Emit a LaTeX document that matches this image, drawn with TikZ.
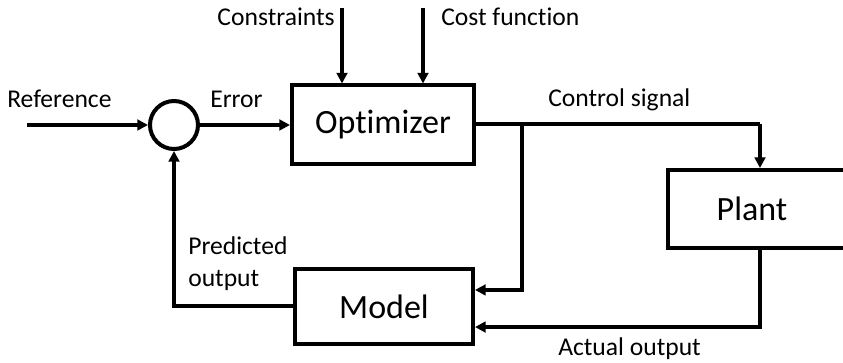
\documentclass[tikz,border=0pt]{standalone}
\usepackage{fontspec}
\setmainfont{Carlito}[Ligatures={NoCommon,NoContextual}]
\usepackage{tikz}
\usetikzlibrary{arrows.meta}

\tikzset{
  block/.style={draw, line width=3pt, fill=white, inner sep=0pt, font=\fontsize{25.5}{30}\selectfont},
  sumnode/.style={draw, circle, line width=3pt, minimum size=36pt, inner sep=0pt},
  wire/.style={line width=3pt},
  sig/.style={wire, -{Triangle[length=8pt,width=8pt]}},
  lab/.style={inner sep=0pt, font=\fontsize{19.2}{24.5}\selectfont},
}

\begin{document}
\begin{tikzpicture}[x=0.75pt,y=0.75pt,yscale=-1,xscale=1]
    \clip (0,0) rectangle (843,363); %picture is 843 wide and 363 high

    % Blocks
    \node [sumnode] (sum) at (174,125) {};
    \node [block, minimum width=136.5pt, minimum height=59.25pt] (opt) at (383,125) {Optimizer};
    \node [block, minimum width=159pt, minimum height=58.5pt] (plant) at (774,209) {};
    \node [block, minimum width=133.5pt, minimum height=56.25pt] (model) at (384,306.5) {Model};
    \node [inner sep=0pt, font=\fontsize{25.5}{30}\selectfont] (plantlab) at (752,209) {Plant};

    % Free ends and corners
    \coordinate (refin) at (27,125);
    \coordinate (conin) at (342,8);
    \coordinate (costin) at (423,8);
    \coordinate (cs) at (760,124);
    \coordinate (br) at (522,124);

    % Signals
    \draw [sig] (refin) -- (sum.west);
    \draw [sig] (sum.east) -- (opt.west);
    \draw [sig] (conin) -- (conin |- opt.north);
    \draw [sig] (costin) -- (costin |- opt.north);
    \draw [wire] (opt.east |- cs) -- (cs);
    \draw [sig] (cs) -- (cs |- plant.north);
    \draw [sig] (br) |- ([yshift=-12.4pt]model.east);
    \draw [sig] (cs |- plant.south) |- ([yshift=15.4pt]model.east);
    \draw [sig] (model.west) -| (sum.south);

    % Text Node
    \node [lab, anchor=base west] (reflab) at (7,108) {Reference};
    % Text Node
    \node [lab, anchor=base west] (errlab) at (210,108) {Error};
    % Text Node
    \node [lab, anchor=base east] (conlab) at (335,26) {Constraints};
    % Text Node
    \node [lab, anchor=base west] (costlab) at (441,26) {Cost function};
    % Text Node
    \node [lab, anchor=base west] (cslab) at (548,107) {Control signal};
    % Text Node
    \node [lab, anchor=base west] (actlab) at (558,356) {Actual output};
    % Text Node
    \node [lab, anchor=north west, align=left] (predlab) at (188,236) {Predicted\\output};
\end{tikzpicture}
\end{document}
